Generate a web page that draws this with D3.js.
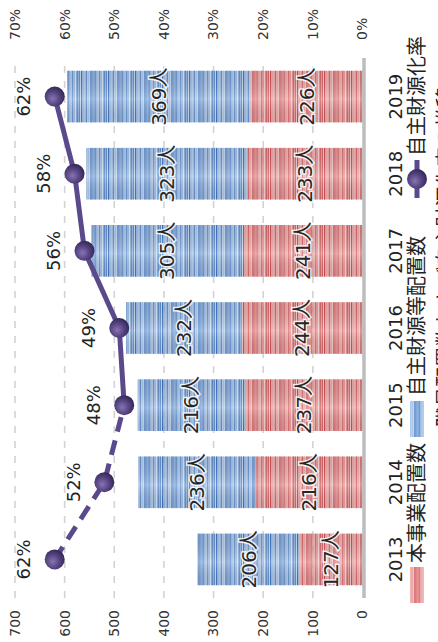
<!DOCTYPE html>
<html>
<head>
<meta charset="utf-8">
<script src="https://cdn.jsdelivr.net/npm/d3@7"></script>
<style>
  body { margin: 0; background: #fff; }
  text { font-family: "DejaVu Sans", "Noto Sans CJK JP", sans-serif; }
</style>
</head>
<body>
<div id="chart"></div>
<script>
// data
const years = ["2013", "2014", "2015", "2016", "2017", "2018", "2019"];
const honjigyo = [127, 216, 237, 244, 241, 233, 226];      // 本事業配置数
const jishuzaigen = [206, 236, 216, 232, 305, 323, 369];   // 自主財源等配置数
const rate = [62, 52, 48, 49, 56, 58, 62];                 // 自主財源化率 (%)
const leftTicks = [0, 100, 200, 300, 400, 500, 600, 700];
const rightTicks = [0, 10, 20, 30, 40, 50, 60, 70];

// the chart is drawn upright (642 wide, 438 tall) and turned a quarter left
const svg = d3.select("#chart")
  .append("svg")
  .attr("width", 438)
  .attr("height", 642);

const defs = svg.append("defs");

function stripes(id, list) {
  const p = defs.append("pattern")
    .attr("id", id)
    .attr("patternUnits", "userSpaceOnUse")
    .attr("width", 700)
    .attr("height", d3.sum(list, d => d[0]));
  let pos = 0;
  list.forEach(function(d) {
    p.append("rect").attr("x", 0).attr("y", pos).attr("width", 700).attr("height", d[0]).attr("fill", d[1]);
    pos += d[0];
  });
}
stripes("blueStripe", [[1.5, "#3f74be"], [1, "#a7c6ec"], [1, "#5f90d1"], [1, "#dbe8f7"], [1.5, "#4b80c7"],
  [1, "#bcd3f0"], [1, "#7aa3da"], [1, "#eaf1fa"], [1.5, "#4479c2"], [1, "#98bbe6"], [1, "#5587cc"], [1, "#c9dcf3"]]);
stripes("redStripe", [[1.5, "#cc4d52"], [1, "#f2b6b5"], [1, "#da6462"], [1, "#f9dcda"], [1.5, "#d35457"],
  [1, "#f0aaa9"], [1, "#e07875"], [1, "#fce7e5"], [1.5, "#c94b50"], [1, "#eda09f"], [1, "#d65c5c"], [1, "#f6cbc9"]]);

const shade = defs.append("linearGradient")
  .attr("id", "shade")
  .attr("x1", 0).attr("x2", 1).attr("y1", 0).attr("y2", 0);
shade.append("stop").attr("offset", "0%").attr("stop-color", "#000").attr("stop-opacity", 0.06);
shade.append("stop").attr("offset", "45%").attr("stop-color", "#fff").attr("stop-opacity", 0.2);
shade.append("stop").attr("offset", "100%").attr("stop-color", "#000").attr("stop-opacity", 0.06);

const ball = defs.append("radialGradient")
  .attr("id", "ball")
  .attr("cx", "40%").attr("cy", "40%").attr("r", "65%");
ball.append("stop").attr("offset", "0%").attr("stop-color", "#8673b3");
ball.append("stop").attr("offset", "55%").attr("stop-color", "#54427f");
ball.append("stop").attr("offset", "100%").attr("stop-color", "#2f2452");

const g = svg.append("g")
  .attr("transform", "translate(0," + 642 + ") rotate(-90)");

// scales
const x = d3.scaleBand()
  .domain(years)
  .range([44, 584])
  .paddingInner(0.33)
  .paddingOuter(0.165);

const y = d3.scaleLinear().domain([0, 700]).range([362.5, 15]);
const y2 = d3.scaleLinear().domain([0, 70]).range([362.5, 15]);

// grid
g.append("g")
  .selectAll("line")
  .data(leftTicks.filter(d => d > 0))
  .enter()
  .append("line")
  .attr("x1", 44).attr("x2", 584)
  .attr("y1", d => y(d)).attr("y2", d => y(d))
  .attr("stroke", "#d3d3d3")
  .attr("stroke-width", 1.6)
  .attr("stroke-dasharray", "7,8");

// axis labels
g.append("g")
  .selectAll("text")
  .data(leftTicks)
  .enter()
  .append("text")
  .attr("x", 32)
  .attr("y", d => y(d))
  .attr("dy", "0.35em")
  .attr("text-anchor", "end")
  .style("font-size", "14px")
  .style("fill", "#333")
  .text(d => d);

g.append("g")
  .selectAll("text")
  .data(rightTicks)
  .enter()
  .append("text")
  .attr("x", 602)
  .attr("y", d => y2(d))
  .attr("dy", "0.35em")
  .attr("text-anchor", "start")
  .style("font-size", "14px")
  .style("fill", "#333")
  .text(d => d + "%");

// stacked bars
const rows = years.map((yr, i) => ({ year: yr, a: honjigyo[i], b: jishuzaigen[i], r: rate[i] }));

const bars = g.append("g");
rows.forEach(function(d) {
  const segs = [
    { y0: 0, y1: d.a, fill: "url(#redStripe)" },
    { y0: d.a, y1: d.a + d.b, fill: "url(#blueStripe)" }
  ];
  segs.forEach(function(s) {
    bars.append("rect")
      .attr("x", x(d.year))
      .attr("width", x.bandwidth())
      .attr("y", y(s.y1))
      .attr("height", y(s.y0) - y(s.y1))
      .attr("fill", s.fill);
    bars.append("rect")
      .attr("x", x(d.year))
      .attr("width", x.bandwidth())
      .attr("y", y(s.y1))
      .attr("height", y(s.y0) - y(s.y1))
      .attr("fill", "url(#shade)");
  });
});

// baseline
g.append("line")
  .attr("x1", 44).attr("x2", 584)
  .attr("y1", y(0) + 1.5).attr("y2", y(0) + 1.5)
  .attr("stroke", "#bdbdbd")
  .attr("stroke-width", 3.5);

// value labels
const labels = g.append("g");
rows.forEach(function(d) {
  [[0, d.a], [d.a, d.a + d.b]].forEach(function(s) {
    labels.append("text")
      .attr("x", x(d.year) + x.bandwidth() / 2)
      .attr("y", (y(s[0]) + y(s[1])) / 2)
      .attr("dy", "0.36em")
      .attr("text-anchor", "middle")
      .style("font-size", "20px")
      .style("fill", "#262626")
      .style("stroke", "#fff")
      .style("stroke-width", "3px")
      .style("stroke-opacity", 0.85)
      .style("paint-order", "stroke")
      .text((s[1] - s[0]) + "人");
  });
});

// rate line: first two steps dashed, rest solid
const cx = d => x(d.year) + x.bandwidth() / 2;
const line = d3.line().x(cx).y(d => y2(d.r));

g.append("path")
  .datum(rows.slice(0, 3))
  .attr("d", line)
  .attr("fill", "none")
  .attr("stroke", "#5b4a8b")
  .attr("stroke-width", 5)
  .attr("stroke-dasharray", "15,9");

g.append("path")
  .datum(rows.slice(2))
  .attr("d", line)
  .attr("fill", "none")
  .attr("stroke", "#5b4a8b")
  .attr("stroke-width", 5);

g.append("g")
  .selectAll("circle")
  .data(rows)
  .enter()
  .append("circle")
  .attr("cx", cx)
  .attr("cy", d => y2(d.r))
  .attr("r", 10)
  .attr("fill", "url(#ball)");

g.append("g")
  .selectAll("text")
  .data(rows)
  .enter()
  .append("text")
  .attr("x", cx)
  .attr("y", d => y2(d.r) - 31)
  .attr("dy", "0.36em")
  .attr("text-anchor", "middle")
  .style("font-size", "18px")
  .style("fill", "#222")
  .text(d => d.r + "%");

// year labels
g.append("g")
  .selectAll("text")
  .data(years)
  .enter()
  .append("text")
  .attr("x", d => x(d) + x.bandwidth() / 2)
  .attr("y", 396)
  .attr("dy", "0.36em")
  .attr("text-anchor", "middle")
  .style("font-size", "18px")
  .style("fill", "#222")
  .text(d => d);

// legend
const legY = 417;
const leg = g.append("g");
leg.append("rect").attr("x", 39).attr("y", legY - 6.5).attr("width", 36).attr("height", 13).attr("fill", "url(#redStripe)");
leg.append("text").attr("x", 79).attr("y", legY).attr("dy", "0.36em")
  .style("font-size", "20px").style("fill", "#222").text("本事業配置数");
leg.append("rect").attr("x", 205).attr("y", legY - 6.5).attr("width", 36).attr("height", 13).attr("fill", "url(#blueStripe)");
leg.append("text").attr("x", 246).attr("y", legY).attr("dy", "0.36em")
  .style("font-size", "20px").style("fill", "#222").text("自主財源等配置数");
leg.append("line").attr("x1", 444).attr("x2", 482).attr("y1", legY).attr("y2", legY)
  .attr("stroke", "#5b4a8b").attr("stroke-width", 5);
leg.append("circle").attr("cx", 463).attr("cy", legY).attr("r", 10).attr("fill", "url(#ball)");
leg.append("text").attr("x", 486).attr("y", legY).attr("dy", "0.36em")
  .style("font-size", "20px").style("fill", "#222").text("自主財源化率");

// second line, cut off by the edge of the picture as in the source
g.append("text")
  .attr("x", 377)
  .attr("y", 446)
  .attr("dy", "0.36em")
  .attr("text-anchor", "middle")
  .style("font-size", "20px")
  .style("fill", "#222")
  .text("※職員配置数および自主財源化率の推移");
</script>
</body>
</html>
